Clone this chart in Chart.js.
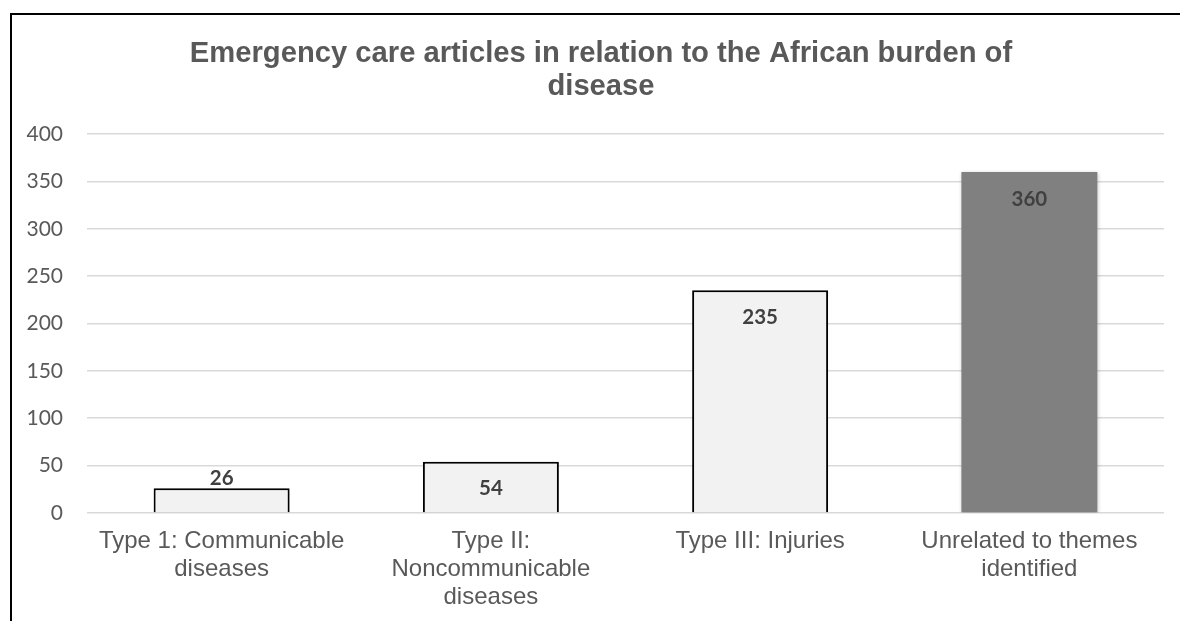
<!DOCTYPE html>
<html>
<head>
<meta charset="utf-8">
<script src="https://cdn.jsdelivr.net/npm/chart.js@4.4.1/dist/chart.umd.min.js"></script>
<style>
  html, body { margin: 0; padding: 0; background: #ffffff; overflow: hidden; }
  #wrap { position: relative; width: 1180px; height: 621px; }
  #frame {
    position: absolute; left: 10px; top: 13px; width: 1200px; height: 700px;
    border-top: 2px solid #000; border-left: 2px solid #000; box-sizing: border-box;
    pointer-events: none;
  }
  canvas { position: absolute; left: 0; top: 0; }
</style>
</head>
<body>
<div id="wrap">
  <canvas id="chart" width="1180" height="621"></canvas>
  <div id="frame"></div>
</div>
<script>
// Article counts per burden-of-disease theme
const categories = [
  ["Type 1: Communicable", "diseases"],
  ["Type II:", "Noncommunicable", "diseases"],
  "Type III: Injuries",
  ["Unrelated to themes", "identified"]
];
const articleCounts = [26, 54, 235, 360];
const barFills = ["#f2f2f2", "#f2f2f2", "#f2f2f2", "#808080"];
const barEdges = [2, 2, 2, 0];
const titleLines = ["Emergency care articles in relation to the African burden of", "disease"];
const yTicks = { min: 0, max: 400, step: 50 };

// Centre the title on the framed panel rather than the full canvas
const titleInset = {
  id: "titleInset",
  afterLayout(chart) {
    if (chart.titleBlock) {
      chart.titleBlock.left = 38;
    }
  }
};

// Soft drop shadow behind the bars
const barShadow = {
  id: "barShadow",
  beforeDatasetsDraw(chart) {
    const ctx = chart.ctx;
    ctx.save();
    ctx.shadowColor = "rgba(0,0,0,0.22)";
    ctx.shadowBlur = 4;
    ctx.shadowOffsetX = 1;
    ctx.shadowOffsetY = 1;
  },
  afterDatasetsDraw(chart) {
    chart.ctx.restore();
  }
};

// Value labels: inside the top of tall bars, above short ones
const valueLabels = {
  id: "valueLabels",
  afterDatasetsDraw(chart) {
    const ctx = chart.ctx;
    const meta = chart.getDatasetMeta(0);
    ctx.save();
    ctx.font = "bold 20.5px Lato";
    ctx.fillStyle = "#404040";
    ctx.textAlign = "center";
    ctx.textBaseline = "middle";
    meta.data.forEach((bar, i) => {
      const v = chart.data.datasets[0].data[i];
      const h = bar.base - bar.y;
      const y = h > 45 ? bar.y + 27 : bar.y - 10;
      ctx.fillText(String(v), bar.x, y);
    });
    ctx.restore();
  }
};

new Chart(document.getElementById("chart"), {
  type: "bar",
  data: {
    labels: categories,
    datasets: [{
      data: articleCounts,
      backgroundColor: barFills,
      borderColor: "#000000",
      borderWidth: barEdges,
      borderSkipped: "start",
      categoryPercentage: 1.0,
      barPercentage: 0.505
    }]
  },
  options: {
    responsive: false,
    animation: false,
    devicePixelRatio: 1,
    layout: { padding: { left: 0, right: 16, top: 0, bottom: 0 } },
    plugins: {
      legend: { display: false },
      tooltip: { enabled: false },
      title: {
        display: true,
        text: titleLines,
        color: "#595959",
        font: { family: "'Liberation Sans', Arial, sans-serif", size: 29.2, weight: "bold", lineHeight: 1.13 },
        padding: { top: 37, bottom: 31 }
      }
    },
    scales: {
      x: {
        grid: { display: false, drawTicks: false },
        border: { display: false },
        ticks: {
          color: "#595959",
          padding: 15,
          maxRotation: 0,
          autoSkip: false,
          font: { family: "'Liberation Sans', Arial, sans-serif", size: 24, lineHeight: 1.15 }
        },
        afterFit(scale) { scale.height = 108; }
      },
      y: {
        min: yTicks.min,
        max: yTicks.max,
        grid: { color: "#d9d9d9", lineWidth: 1.5, drawTicks: false },
        border: { display: false },
        ticks: {
          stepSize: yTicks.step,
          color: "#595959",
          padding: 24,
          font: { family: "Lato, sans-serif", size: 21 }
        },
        afterFit(scale) { scale.width = 87; }
      }
    }
  },
  plugins: [titleInset, barShadow, valueLabels]
});
</script>
</body>
</html>
